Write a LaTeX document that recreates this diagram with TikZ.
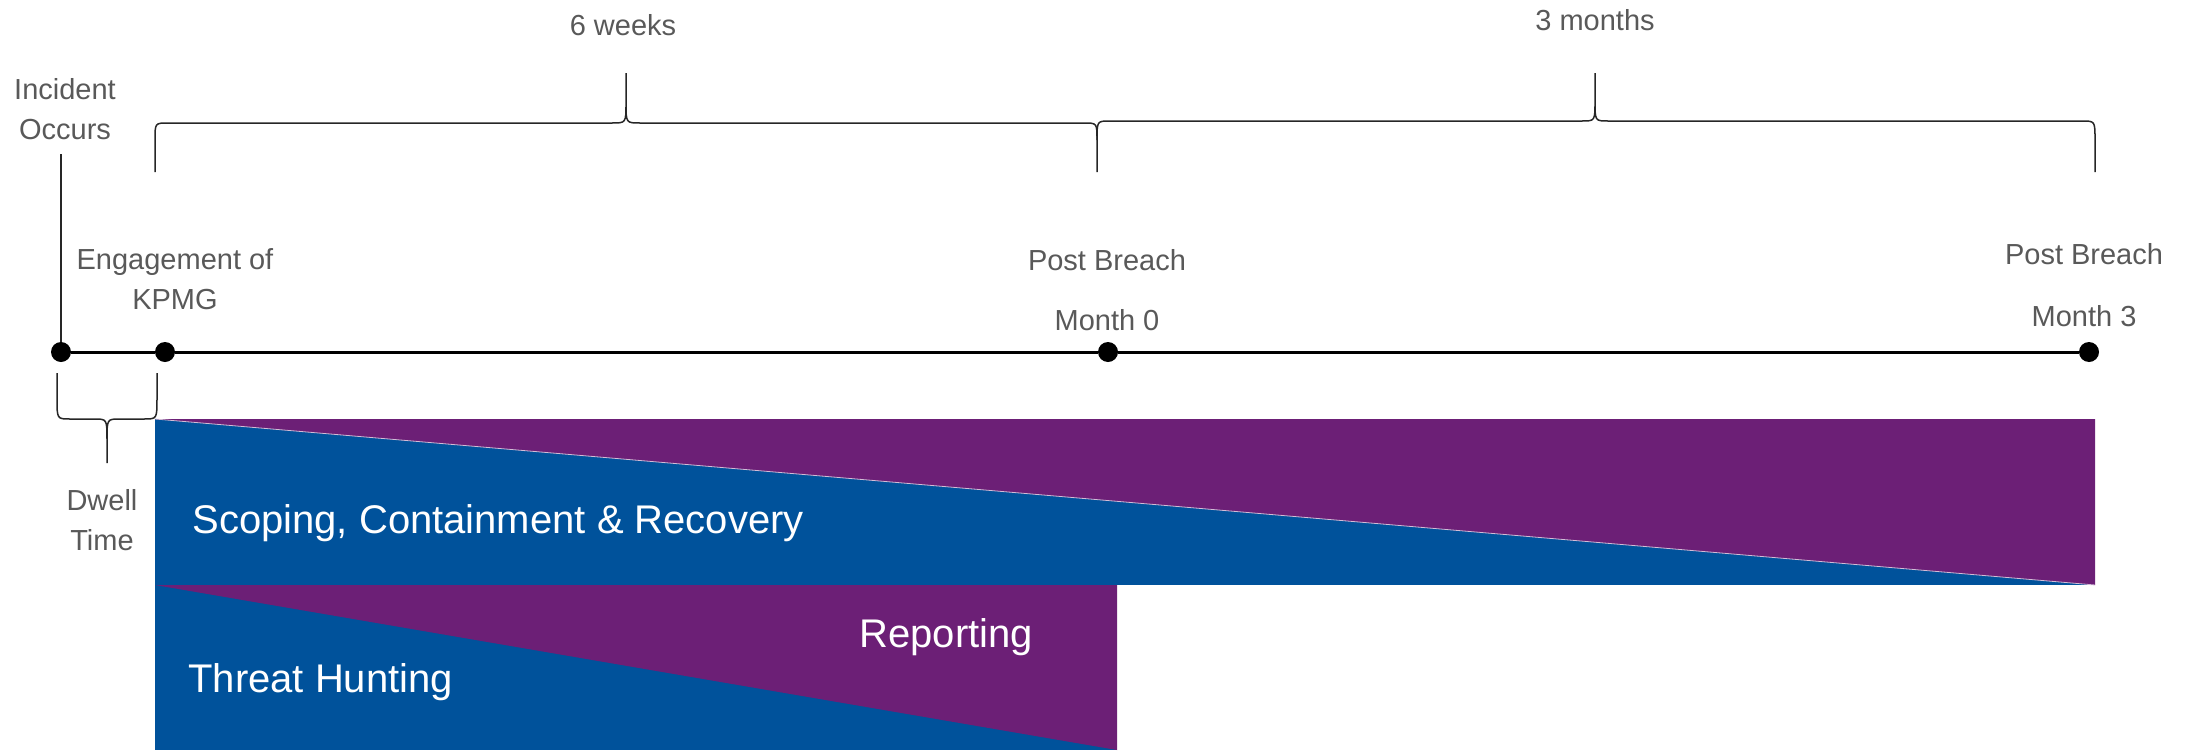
\documentclass[tikz,border=0pt]{standalone}
\usepackage{fontspec}
\setmainfont{Liberation Sans}
\usetikzlibrary{positioning}

\definecolor{kblue}{RGB}{0,82,155}
\definecolor{kpurple}{RGB}{108,31,118}
\definecolor{labelgrey}{RGB}{89,89,89}

\begin{document}
\begin{tikzpicture}[x=0.5pt, y=-0.5pt,
    dot/.style={circle, fill=black, inner sep=0pt, minimum size=10pt},
    greytext/.style={text=labelgrey, font=\fontsize{14.5}{20}\selectfont, align=center, inner sep=0pt},
    phase/.style={text=white, font=\fontsize{20}{24}\selectfont, inner sep=0pt, anchor=base west},
    timeline/.style={line width=1.5pt},
    bracket/.style={line width=0.75pt, black!85}
]
    \useasboundingbox (0,0) rectangle (2190,750);

    % phase bands
    \fill[kblue] (155,419) rectangle (2095,585);
    \fill[kpurple] (155,419) -- (2095,419) -- (2095,585) -- cycle;
    \draw[white!70!kpurple, line width=0.4pt] (155,419) -- (2095,585);
    \fill[kblue] (155,585) rectangle (1117,750);
    \fill[kpurple] (155,585) -- (1117,585) -- (1117,750) -- cycle;

    \node[phase] (scoping) at (192,533) {Scoping, Containment \& Recovery};
    \node[phase] (hunting) at (188,692) {Threat Hunting};
    \node[phase] (reporting) at (859,647) {Reporting};

    % timeline
    \node[dot] (incident) at (61,352) {};
    \node[dot] (engage) at (165,352) {};
    \node[dot] (month0) at (1108,352) {};
    \node[dot] (month3) at (2089,352) {};
    \draw[timeline] (incident) -- (engage) -- (month0) -- (month3);

    \node[greytext] (incidentlbl) at (65,109) {Incident\\Occurs};
    \draw[bracket, shorten <=7pt] (incidentlbl.south -| incident) -- (incident);
    \node[greytext] (engagelbl) at (175,279) {Engagement of\\KPMG};
    \node[greytext, anchor=base] (breach0) at (1107,270) {Post Breach};
    \node[greytext, anchor=base] (month0lbl) at (1107,330) {Month 0};
    \node[greytext, anchor=base] (breach3) at (2084,264) {Post Breach};
    \node[greytext, anchor=base] (month3lbl) at (2084,326) {Month 3};
    \node[greytext] (dwell) at (102,520) {Dwell\\Time};

    % braces
    \node[greytext, anchor=base] (sixweeks) at (623,35) {6 weeks};
    \node[greytext, anchor=base] (threemonths) at (1595,30) {3 months};
    \draw[bracket] (155,172) -- (155,140) .. controls (155,123) .. (168,123) -- (612,123) .. controls (626,123) .. (626,103) -- (626,73)
                   (626,103) .. controls (626,123) .. (640,123) -- (1084,123) .. controls (1097,123) .. (1097,140) -- (1097,172);
    \draw[bracket] (1097,140) .. controls (1097,121) .. (1110,121) -- (1582,121) .. controls (1595,121) .. (1595,101) -- (1595,73)
                   (1595,101) .. controls (1595,121) .. (1608,121) -- (2082,121) .. controls (2095,121) .. (2095,140) -- (2095,172);
    \draw[bracket] (57,373) -- (57,398) .. controls (57,419) .. (70,419) -- (94,419) .. controls (107,419) .. (107,440) -- (107,463)
                   (107,440) .. controls (107,419) .. (120,419) -- (144,419) .. controls (157,419) .. (157,398) -- (157,373);
\end{tikzpicture}
\end{document}
